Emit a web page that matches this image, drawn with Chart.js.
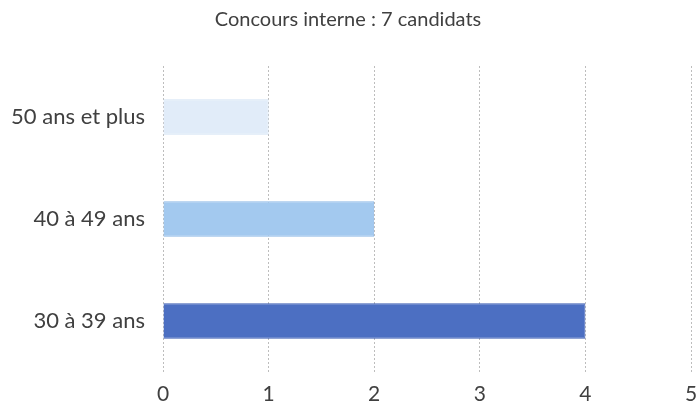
<!DOCTYPE html>
<html>
<head>
<meta charset="utf-8">
<script src="https://cdn.jsdelivr.net/npm/chart.js@4.4.0/dist/chart.umd.min.js"></script>
<style>
  html, body { margin: 0; padding: 0; background: #fff; }
  #wrap { width: 696px; height: 412px; }
</style>
</head>
<body>
<div id="wrap"><canvas id="ageChart"></canvas></div>
<script>
// Data
const categories = ['50 ans et plus', '40 à 49 ans', '30 à 39 ans'];
const candidats = [1, 2, 4];
const barColors = ['#e1ecf9', '#a3c9ef', '#4c6fc2'];
const barBorders = ['#d3e2f4', '#8db8e6', '#3b5db3'];
const xTicks = [0, 1, 2, 3, 4, 5];

new Chart(document.getElementById('ageChart'), {
    type: 'bar',
    data: {
        labels: categories,
        datasets: [{
            data: candidats,
            backgroundColor: barColors,
            borderColor: barBorders,
            borderWidth: 1,
            categoryPercentage: 1,
            barPercentage: 0.35
        }]
    },
    options: {
        indexAxis: 'y',
        responsive: true,
        maintainAspectRatio: false,
        animation: false,
        layout: { padding: 0 },
        plugins: {
            legend: { display: false },
            tooltip: { enabled: false },
            title: {
                display: true,
                text: 'Concours interne : 7 candidats',
                color: '#404040',
                font: { family: 'Lato', size: 20, weight: 'normal' },
                padding: { top: 8, bottom: 34 }
            }
        },
        scales: {
            x: {
                min: 0,
                max: 5,
                afterBuildTicks: (scale) => { scale.ticks = xTicks.map(v => ({ value: v })); },
                afterFit: (scale) => {
                    scale.height = 40;
                    scale.paddingLeft = 0;
                    scale.paddingRight = 5;
                },
                grid: {
                    color: '#bdbdbd',
                    lineWidth: 1,
                    drawTicks: false
                },
                border: { display: false, dash: [2, 2] },
                ticks: {
                    color: '#404040',
                    padding: 10,
                    font: { family: 'Lato', size: 21 }
                }
            },
            y: {
                grid: { display: false },
                border: { display: false },
                afterFit: (scale) => {
                    scale.width = 163;
                    scale.paddingTop = 0;
                    scale.paddingBottom = 0;
                },
                ticks: {
                    color: '#404040',
                    padding: 10,
                    font: { family: 'Lato', size: 22 }
                }
            }
        }
    }
});
</script>
</body>
</html>
